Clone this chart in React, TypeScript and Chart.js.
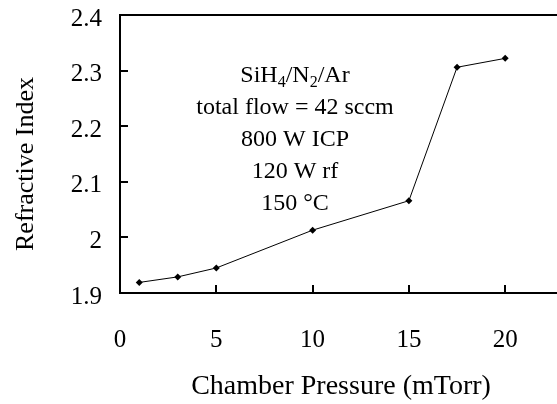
import React, { useEffect, useRef } from "react";
import { Chart, registerables } from "chart.js";

Chart.register(...registerables);

// ---- data ----
const pressure = [1, 3, 5, 10, 15, 17.5, 20];
const refractiveIndex = [1.919, 1.929, 1.945, 2.013, 2.066, 2.306, 2.322];
const xTickValues = [0, 5, 10, 15, 20, 25];
const yTickValues = [1.9, 2.0, 2.1, 2.2, 2.3, 2.4];
const xTitle = "Chamber Pressure (mTorr)";
const yTitle = "Refractive Index";
// each line: list of [text, isSubscript]
const annotationLines: [string, boolean][][] = [
  [["SiH", false], ["4", true], ["/N", false], ["2", true], ["/Ar", false]],
  [["total flow = 42 sccm", false]],
  [["800 W ICP", false]],
  [["120 W rf", false]],
  [["150 \u00B0C", false]],
];

const FONT = '"Liberation Serif", "Times New Roman", Times, serif';
const TICK_FS = 25;
const ANN_FS = 24;

const decorPlugin = {
  id: "decor",
  afterDraw(chart: any) {
    const ctx = chart.ctx as CanvasRenderingContext2D;
    const { left, right, top, bottom } = chart.chartArea;
    const xs = chart.scales.x;
    const ys = chart.scales.y;
    ctx.save();
    ctx.strokeStyle = "#000";
    ctx.lineWidth = 2;
    // top frame line
    ctx.beginPath();
    ctx.moveTo(left - 1, top);
    ctx.lineTo(right, top);
    ctx.stroke();
    // inward ticks
    ctx.beginPath();
    yTickValues.forEach((v) => {
      const py = Math.round(ys.getPixelForValue(v));
      ctx.moveTo(left, py);
      ctx.lineTo(left + 8, py);
    });
    xTickValues.forEach((v) => {
      const px = Math.round(xs.getPixelForValue(v));
      ctx.moveTo(px, bottom);
      ctx.lineTo(px, bottom - 8);
    });
    ctx.stroke();

    ctx.fillStyle = "#000";
    ctx.textAlign = "center";
    ctx.textBaseline = "middle";
    // x title
    ctx.font = `28px ${FONT}`;
    ctx.fillText(xTitle, 341, 387);
    // y title
    ctx.font = `26px ${FONT}`;
    ctx.save();
    ctx.translate(26, 164);
    ctx.rotate(-Math.PI / 2);
    ctx.fillText(yTitle, 0, 0);
    ctx.restore();

    // annotation block
    ctx.textAlign = "left";
    ctx.textBaseline = "alphabetic";
    const cx = 295;
    annotationLines.forEach((segs, i) => {
      const base = 82 + i * 32;
      let w = 0;
      segs.forEach(([t, sub]) => {
        ctx.font = `${sub ? 16 : ANN_FS}px ${FONT}`;
        w += ctx.measureText(t).width;
      });
      let x = cx - w / 2;
      segs.forEach(([t, sub]) => {
        ctx.font = `${sub ? 16 : ANN_FS}px ${FONT}`;
        ctx.fillText(t, x, sub ? base + 5 : base);
        x += ctx.measureText(t).width;
      });
    });
    ctx.restore();
  },
};

const zeroPadding = (s: any) => {
  s.paddingTop = 0;
  s.paddingBottom = 0;
  s.paddingLeft = 0;
  s.paddingRight = 0;
};

export default function App() {
  const ref = useRef<HTMLCanvasElement>(null);
  useEffect(() => {
    if (!ref.current) return;
    const chart = new Chart(ref.current, {
      type: "line",
      data: {
        datasets: [
          {
            data: pressure.map((x, i) => ({ x, y: refractiveIndex[i] })),
            borderColor: "#000",
            borderWidth: 1,
            backgroundColor: "#000",
            pointStyle: "rectRot",
            pointRadius: 3.5,
            pointBorderWidth: 0,
            pointBackgroundColor: "#000",
            tension: 0,
          },
        ],
      },
      options: {
        responsive: false,
        animation: false,
        devicePixelRatio: 1,
        layout: { padding: { left: 0, top: 15, right: 18.5, bottom: 0 } },
        plugins: { legend: { display: false }, tooltip: { enabled: false } },
        scales: {
          x: {
            type: "linear",
            min: 0,
            max: 25,
            afterBuildTicks: (s: any) => {
              s.ticks = xTickValues.map((v) => ({ value: v }));
            },
            afterFit: (s: any) => {
              s.height = 111;
              zeroPadding(s);
            },
            grid: { display: false, drawTicks: false },
            border: { display: true, color: "#000", width: 2 },
            ticks: {
              padding: 32,
              color: "#000",
              font: { family: FONT, size: TICK_FS },
              callback: (v: any) => String(v),
            },
          },
          y: {
            type: "linear",
            min: 1.9,
            max: 2.4,
            afterBuildTicks: (s: any) => {
              s.ticks = yTickValues.map((v) => ({ value: v }));
            },
            afterFit: (s: any) => {
              s.width = 120;
              zeroPadding(s);
            },
            grid: { display: false, drawTicks: false },
            border: { display: true, color: "#000", width: 2 },
            ticks: {
              padding: 18,
              labelOffset: 4,
              color: "#000",
              font: { family: FONT, size: TICK_FS },
              callback: (v: any) => String(Number(Number(v).toFixed(1))),
            },
          },
        },
      },
      plugins: [decorPlugin],
    });
    return () => chart.destroy();
  }, []);
  return (
    <div
      style={{
        position: "fixed",
        left: 0,
        top: 0,
        width: 557,
        height: 404,
        overflow: "hidden",
        background: "#fff",
      }}
    >
      <canvas ref={ref} width={620} height={404} style={{ display: "block" }} />
    </div>
  );
}
